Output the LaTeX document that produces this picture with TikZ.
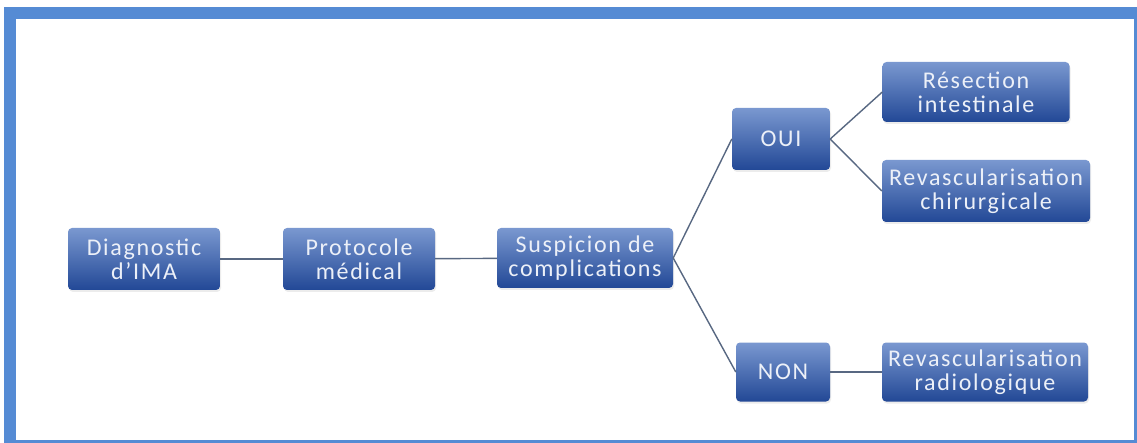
\documentclass[tikz,border=0pt]{standalone}
\usepackage{fontspec}
\setmainfont{Carlito}
\newfontfamily\boxfont[LetterSpace=7]{Carlito}
\usetikzlibrary{shadows}
\definecolor{framebl}{RGB}{85,139,212}
\definecolor{boxtop}{RGB}{122,152,208}
\definecolor{boxbot}{RGB}{34,72,150}
\definecolor{linkgr}{RGB}{88,104,130}
\definecolor{boxtxt}{RGB}{236,240,248}
\tikzstyle{stepbox} = [rectangle, rounded corners=4pt, text centered, align=center, top color=boxtop, bottom color=boxbot, text=boxtxt, font=\boxfont\fontsize{24}{24}\selectfont, inner sep=2pt, drop shadow={opacity=0.15, shadow xshift=1pt, shadow yshift=-2pt}]
\tikzstyle{link} = [draw=linkgr, line width=1.4pt]

\begin{document}
\begin{tikzpicture}[x=1pt, y=-1pt]

    % Frame
    \useasboundingbox (0,0) rectangle (1137,443);
    \fill[framebl] (4,7) rectangle (1137,443);
    \fill[white] (16,19) rectangle (1134,440);

    % Nodes
    \node (diag) [stepbox, minimum width=152pt, minimum height=62pt] at (144,259) {Diagnostic\\d’IMA};
    \node (proto) [stepbox, minimum width=152pt, minimum height=62pt] at (359,259) {Protocole\\médical};
    \node (susp) [stepbox, minimum width=176pt, minimum height=60pt] at (585,258) {Suspicion de\\complications};
    \node (oui) [stepbox, minimum width=98pt, minimum height=62pt] at (781,139) {OUI};
    \node (non) [stepbox, minimum width=94pt, minimum height=59pt] at (783,372) {NON};
    \node (resec) [stepbox, minimum width=187pt, minimum height=60pt] at (976,92) {Résection\\intestinale};
    \node (chir) [stepbox, minimum width=208pt, minimum height=62pt] at (986,191) {Revascularisation\\chirurgicale};
    \node (radio) [stepbox, minimum width=206pt, minimum height=59pt] at (985,372) {Revascularisation\\radiologique};

    % Links
    \draw [link] (diag) -- (proto);
    \draw [link] (proto) -- (susp);
    \draw [link] (susp.east) -- (oui.west);
    \draw [link] (susp.east) -- (non.west);
    \draw [link] (oui.east) -- (resec.west);
    \draw [link] (oui.east) -- (chir.west);
    \draw [link] (non) -- (radio);

\end{tikzpicture}
\end{document}
